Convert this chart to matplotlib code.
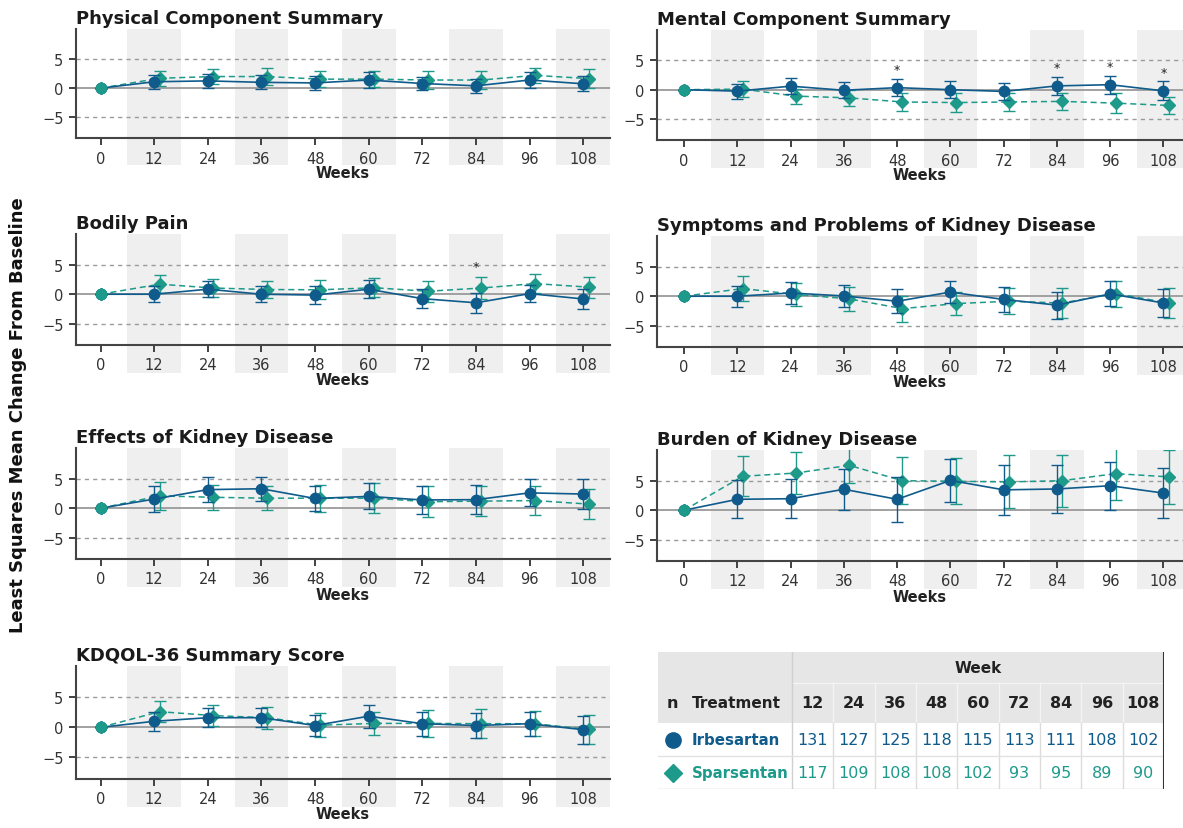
import matplotlib.pyplot as plt
import numpy as np
from matplotlib.patches import Rectangle

weeks = np.array([0, 12, 24, 36, 48, 60, 72, 84, 96, 108])

titles = ["Physical Component Summary", "Mental Component Summary",
          "Bodily Pain", "Symptoms and Problems of Kidney Disease",
          "Effects of Kidney Disease", "Burden of Kidney Disease",
          "KDQOL-36 Summary Score"]

# LS mean change and 95% CI half-widths
irb_mean = [
    [0, 1.1, 1.25, 1.0, 0.9, 1.4, 0.8, 0.4, 1.4, 0.75],
    [0, -0.25, 0.6, -0.1, 0.35, 0.0, -0.3, 0.65, 0.85, -0.2],
    [0, 0.0, 0.85, 0.0, -0.15, 0.85, -0.75, -1.45, 0.1, -0.8],
    [0, 0.0, 0.55, 0.05, -0.85, 0.7, -0.55, -1.5, 0.4, -1.15],
    [0, 1.55, 3.15, 3.3, 1.65, 2.0, 1.4, 1.45, 2.6, 2.4],
    [0, 1.85, 1.95, 3.55, 1.85, 5.05, 3.45, 3.6, 4.15, 2.9],
    [0, 1.0, 1.6, 1.6, 0.3, 1.85, 0.6, 0.3, 0.6, -0.4],
]
irb_ci = [
    [0, 1.2, 1.2, 1.2, 1.2, 1.3, 1.2, 1.2, 1.3, 1.3],
    [0, 1.3, 1.4, 1.4, 1.5, 1.5, 1.5, 1.5, 1.55, 1.6],
    [0, 1.4, 1.4, 1.4, 1.5, 1.5, 1.6, 1.7, 1.5, 1.7],
    [0, 1.8, 1.8, 1.9, 2.0, 1.9, 2.1, 2.3, 2.1, 2.4],
    [0, 2.2, 2.1, 2.0, 2.1, 2.2, 2.4, 2.5, 2.3, 2.5],
    [0, 3.25, 3.3, 3.5, 3.8, 3.7, 4.2, 4.0, 4.1, 4.3],
    [0, 1.6, 1.6, 1.6, 1.8, 1.9, 2.0, 2.1, 2.0, 2.3],
]
spa_mean = [
    [0, 1.7, 2.0, 2.0, 1.55, 1.55, 1.4, 1.4, 2.2, 1.65],
    [0, 0.1, -1.1, -1.4, -2.1, -2.2, -2.1, -2.0, -2.3, -2.7],
    [0, 1.7, 1.05, 0.8, 0.75, 1.1, 0.5, 1.05, 1.8, 1.2],
    [0, 1.3, 0.3, -0.45, -2.1, -1.25, -0.85, -1.15, 0.45, -1.15],
    [0, 2.1, 1.85, 1.7, 1.7, 1.7, 1.1, 1.2, 1.3, 0.7],
    [0, 5.75, 6.3, 7.6, 5.0, 4.9, 4.8, 5.0, 6.2, 5.65],
    [0, 2.6, 1.95, 1.6, 0.35, 0.65, 0.65, 0.6, 0.6, -0.35],
]
spa_ci = [
    [0, 1.3, 1.3, 1.4, 1.4, 1.4, 1.5, 1.5, 1.3, 1.6],
    [0, 1.4, 1.3, 1.4, 1.5, 1.6, 1.5, 1.5, 1.7, 1.5],
    [0, 1.5, 1.5, 1.5, 1.6, 1.6, 1.8, 1.8, 1.6, 1.8],
    [0, 2.1, 2.0, 2.0, 2.2, 2.0, 2.2, 2.5, 2.2, 2.6],
    [0, 2.4, 2.1, 2.0, 2.3, 2.5, 2.6, 2.6, 2.4, 2.6],
    [0, 3.4, 3.6, 3.0, 4.0, 3.9, 4.5, 4.4, 4.45, 4.6],
    [0, 1.7, 1.8, 1.8, 2.0, 1.9, 2.2, 2.4, 2.1, 2.4],
]

# significance asterisks: (panel, week, series)
stars = [(1, 48, "irb"), (1, 84, "irb"), (1, 96, "irb"), (1, 108, "irb"),
         (2, 84, "spa")]

table_weeks = [12, 24, 36, 48, 60, 72, 84, 96, 108]
n_irb = [131, 127, 125, 118, 115, 113, 111, 108, 102]
n_spa = [117, 109, 108, 108, 102, 93, 95, 89, 90]

c_irb = "#0f5b8c"
c_spa = "#1d9a8a"

W, H = 1183, 829
fig = plt.figure(figsize=(W / 100, H / 100), dpi=100)
plt.rcParams['font.family'] = 'DejaVu Sans'

# pixel boxes (left, top, right, bottom)
boxes = [(76, 30, 610, 139), (657, 31, 1183, 141),
         (76, 235, 610, 346), (657, 237, 1183, 348),
         (76, 449, 610, 560), (657, 451, 1183, 562),
         (76, 667, 610, 780)]


def px_axes(l, t, r, b):
    return fig.add_axes([l / W, 1 - b / H, (r - l) / W, (b - t) / H])


for i, (l, t, r, b) in enumerate(boxes):
    ax = px_axes(l, t, r, b)
    if l < 300:
        ax.set_xlim(-5.5, 114)
    else:
        ax.set_xlim(-6.1, 112.4)
    ax.set_ylim(-8.6, 10.2)
    for c in [12, 36, 60, 84, 108]:
        ax.add_patch(Rectangle((c - 6, -0.25), 12, 1.25, transform=ax.get_xaxis_transform(),
                               facecolor="#efefef", edgecolor="none", clip_on=False, zorder=0))
    ax.axhline(0, color="#9a9a9a", lw=1.3, zorder=1)
    for yy in [5, -5]:
        ax.axhline(yy, color="#9a9a9a", lw=1.0, ls=(0, (3, 3)), zorder=1)

    xs = np.where(weeks > 0, weeks + 1.2, weeks)
    ax.errorbar(xs, spa_mean[i], yerr=spa_ci[i], color=c_spa, ls=(0, (4, 2.5)), lw=1.1,
                marker="D", ms=6.5, capsize=4, elinewidth=1.0, capthick=1.0, zorder=3)
    ax.errorbar(weeks, irb_mean[i], yerr=irb_ci[i], color=c_irb, ls="-", lw=1.2,
                marker="o", ms=7.5, capsize=4, elinewidth=1.0, capthick=1.0, zorder=4)
    # baseline point drawn teal on top
    ax.plot([0], [0], marker="o", ms=7.5, color=c_spa, zorder=5)

    for (p, wk, s) in stars:
        if p == i:
            k = list(weeks).index(wk)
            if s == "irb":
                yy = irb_mean[i][k] + irb_ci[i][k] + 0.5
            else:
                yy = spa_mean[i][k] + spa_ci[i][k] + 0.7
            ax.text(wk, yy, "*", ha="center", va="bottom", fontsize=9, color="#222222")

    ax.set_xticks(weeks)
    ax.set_yticks([-5, 0, 5])
    ax.tick_params(axis="both", labelsize=10.5, colors="#333333", length=5, width=1.3,
                   labelcolor="#333333", pad=4)
    for s in ["top", "right"]:
        ax.spines[s].set_visible(False)
    for s in ["left", "bottom"]:
        ax.spines[s].set_color("#444444")
        ax.spines[s].set_linewidth(1.5)
    ax.set_xlabel("Weeks", fontsize=10.5, fontweight="bold", color="#222222", labelpad=0)
    ax.set_title(titles[i], loc="left", fontsize=13, fontweight="bold", color="#1a1a1a", pad=4)

fig.text(18 / W, 1 - 415 / H, "Least Squares Mean Change From Baseline", rotation=90,
         ha="center", va="center", fontsize=13, fontweight="bold", color="#111111")

# n table
tl, tt, tr, tb = 658, 653, 1164, 790
tax = px_axes(tl, tt, tr, tb)
tax.set_xlim(tl, tr)
tax.set_ylim(tb, tt)
tax.axis("off")
col0 = 792
cw = (tr - col0) / len(table_weeks)
r1, r2, r3 = 684, 724, 757
tax.add_patch(Rectangle((tl, tt), tr - tl, r2 - tt, facecolor="#e6e6e6", edgecolor="none"))
tax.plot([col0, tr], [r1, r1], color="#f4f4f4", lw=1)
tax.plot([col0, col0], [tt, tb], color="#d0d0d0", lw=1)
for j in range(1, len(table_weeks)):
    x = col0 + j * cw
    tax.plot([x, x], [r1, r2], color="#f4f4f4", lw=1)
    tax.plot([x, x], [r2, tb], color="#dcdcdc", lw=1)
tax.plot([tl, tr], [r3, r3], color="#e2e2e2", lw=1)
tax.plot([tl, tr], [tb, tb], color="#cccccc", lw=1)
tax.plot([tr, tr], [tt, tb], color="#333333", lw=1.5)

fs = 11.5
tax.text((col0 + tr) / 2, (tt + r1) / 2, "Week", ha="center", va="center",
         fontsize=11, fontweight="bold", color="#222222")
tax.text(672, (r1 + r2) / 2, "n", ha="center", va="center", fontsize=fs,
         fontweight="bold", color="#222222")
tax.text(692, (r1 + r2) / 2, "Treatment", ha="left", va="center", fontsize=11,
         fontweight="bold", color="#222222")
for j, wk in enumerate(table_weeks):
    cx = col0 + (j + 0.5) * cw
    tax.text(cx, (r1 + r2) / 2, str(wk), ha="center", va="center", fontsize=fs,
             fontweight="bold", color="#222222")
    tax.text(cx, (r2 + r3) / 2, str(n_irb[j]), ha="center", va="center", fontsize=fs, color=c_irb)
    tax.text(cx, (r3 + tb) / 2, str(n_spa[j]), ha="center", va="center", fontsize=fs, color=c_spa)
tax.plot([673], [(r2 + r3) / 2], marker="o", ms=11, color=c_irb, clip_on=False)
tax.plot([673], [(r3 + tb) / 2], marker="D", ms=9.5, color=c_spa, clip_on=False)
tax.text(692, (r2 + r3) / 2, "Irbesartan", ha="left", va="center", fontsize=10.8,
         fontweight="bold", color=c_irb)
tax.text(692, (r3 + tb) / 2, "Sparsentan", ha="left", va="center", fontsize=10.8,
         fontweight="bold", color=c_spa)

plt.savefig("out.png", dpi=100)
